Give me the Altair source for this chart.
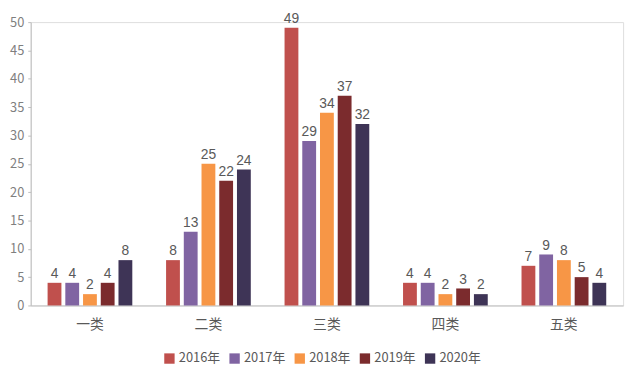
import altair as alt
import pandas as pd

categories = ["一类", "二类", "三类", "四类", "五类"]
years = ["2016年", "2017年", "2018年", "2019年", "2020年"]
v2016 = [4, 8, 49, 4, 7]
v2017 = [4, 13, 29, 4, 9]
v2018 = [2, 25, 34, 2, 8]
v2019 = [4, 22, 37, 3, 5]
v2020 = [8, 24, 32, 2, 4]
colors = ["#C0504D", "#8064A2", "#F79646", "#7B2B2D", "#3E3456"]

series = [v2016, v2017, v2018, v2019, v2020]
rows = []
for y, vals in zip(years, series):
    for c, v in zip(categories, vals):
        rows.append({"cat": c, "year": y, "value": v})
df = pd.DataFrame(rows)

font = "Noto Sans CJK SC"
gray = "#595959"

base = alt.Chart(df).encode(
    x=alt.X("cat:N", sort=categories, title=None,
            scale=alt.Scale(paddingInner=0.27, paddingOuter=0.135),
            axis=alt.Axis(labelAngle=0, domainColor="#BFBFBF", ticks=False,
                          labelFont=font, labelFontSize=14, labelColor=gray,
                          labelPadding=12)),
    xOffset=alt.XOffset("year:N", sort=years,
                        scale=alt.Scale(paddingInner=0.22, paddingOuter=0.05)),
    y=alt.Y("value:Q", title=None,
            scale=alt.Scale(domain=[0, 50]),
            axis=alt.Axis(values=list(range(0, 55, 5)), grid=False,
                          domainColor="#BFBFBF", tickColor="#BFBFBF", tickSize=3,
                          labelFont=font, labelFontSize=13, labelColor="#7F7F7F",
                          labelPadding=4)),
)

bars = base.mark_bar().encode(
    color=alt.Color("year:N", sort=years,
                    scale=alt.Scale(domain=years, range=colors),
                    legend=alt.Legend(title=None, orient="none", direction="horizontal",
                                      legendX=134, legendY=334,
                                      symbolType="square", symbolSize=110,
                                      symbolStrokeWidth=0,
                                      labelFont=font, labelFontSize=13, labelColor=gray,
                                      columnPadding=8, labelOffset=3))
)

labels = base.mark_text(baseline="alphabetic", dy=-5, font="Liberation Sans",
                        fontSize=14, color=gray).encode(
    text="value:Q"
)

chart = (bars + labels).properties(
    width=600, height=287,
    autosize=alt.AutoSizeParams(type="none"),
    padding={"left": 23, "top": 12, "right": 9, "bottom": 58},
).configure_view(stroke=None).configure(background="white")

chart.save("out.html", embed_options={"renderer": "svg", "actions": False})
